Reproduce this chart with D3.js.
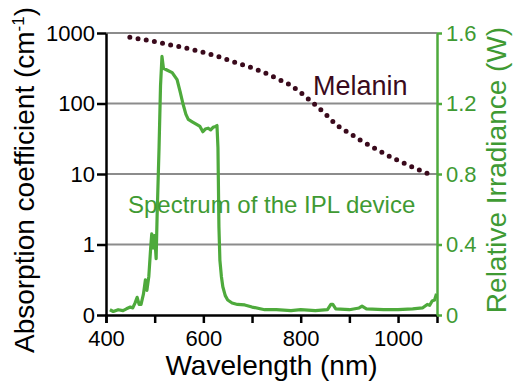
<!DOCTYPE html>
<html>
<head>
<meta charset="utf-8">
<script src="https://cdn.jsdelivr.net/npm/d3@7"></script>
<style>
  body { margin: 0; background: #fff; }
  svg text { font-family: "Liberation Sans", Arial, sans-serif; }
</style>
</head>
<body>
<svg id="chart" width="514" height="387"></svg>
<script>
"use strict";

// melanin absorption coefficient (cm^-1)
var melaninWl  = [449, 480, 517, 550, 587, 625, 661, 700, 722, 753, 780, 798, 823, 850, 874, 900, 922, 955, 989, 1030, 1074];
var melaninVal = [870, 800, 714, 640, 561, 475, 392, 320, 280, 223, 180, 146, 105, 72, 49.5, 38, 30.3, 22.5, 16.9, 12.5, 9.3];

// relative irradiance (W) of the IPL device
var specWl  = [408, 415, 425, 435, 442, 450, 455, 460, 464, 468, 472, 477, 481, 484, 488, 492, 494, 497, 500, 503, 505,
               509, 512, 515, 518, 525, 536, 546, 552, 558, 564, 569, 578, 587, 593, 599, 604, 610, 615, 620, 625, 628,
               630, 632, 634, 637, 640, 645, 650, 659, 670, 685, 700, 726, 750, 780, 800, 830, 855, 862, 866, 872, 900,
               920, 926, 935, 970, 1000, 1030, 1050, 1060, 1065, 1070, 1075, 1079];
var specVal = [0.03, 0.02, 0.03, 0.025, 0.035, 0.045, 0.04, 0.07, 0.10, 0.06, 0.06, 0.12, 0.2, 0.14, 0.22, 0.39, 0.46, 0.38, 0.45, 0.32, 0.56,
               0.95, 1.3, 1.467, 1.40, 1.39, 1.375, 1.335, 1.27, 1.20, 1.14, 1.11, 1.095, 1.08, 1.07, 1.04, 1.055, 1.06, 1.05, 1.065, 1.07, 1.075,
               0.95, 0.5, 0.31, 0.22, 0.16, 0.11, 0.085, 0.068, 0.06, 0.057, 0.045, 0.03, 0.03, 0.025, 0.03, 0.025, 0.03, 0.06, 0.06, 0.035, 0.03,
               0.04, 0.05, 0.035, 0.03, 0.03, 0.035, 0.04, 0.06, 0.055, 0.08, 0.085, 0.12];

var xTicks = [400, 500, 600, 700, 800, 900, 1000];
var xLabels = [400, 600, 800, 1000];
var leftTicks = [0.1, 1, 10, 100, 1000];
var rightTicks = [0, 0.4, 0.8, 1.2, 1.6];

var green = "#4eaa3c", greenText = "#3f9a33", maroon = "#3a0a1c";

var svg = d3.select("#chart");
var plotLeft = 106, plotRight = 437, plotTop = 33, plotBottom = 315;

var x = d3.scaleLinear().domain([400, 1080]).range([plotLeft, plotRight]);
var yLog = d3.scaleLog().domain([0.1, 1000]).range([plotBottom, plotTop]);
var yLin = d3.scaleLinear().domain([0, 1.6]).range([plotBottom, plotTop]);

// gridlines
svg.append("g").selectAll("line")
    .data(leftTicks.slice(1))
    .enter().append("line")
      .attr("x1", plotLeft).attr("x2", plotRight)
      .attr("y1", function(d) { return yLog(d); })
      .attr("y2", function(d) { return yLog(d); })
      .attr("stroke", "#8c8c8c")
      .attr("stroke-width", 2);

// spectrum
var spec = specWl.map(function(w, i) { return [w, specVal[i]]; });
svg.append("path")
    .datum(spec)
    .attr("fill", "none")
    .attr("stroke", green)
    .attr("stroke-width", 3.2)
    .attr("stroke-linejoin", "round")
    .attr("d", d3.line()
        .x(function(d) { return x(d[0]); })
        .y(function(d) { return yLin(d[1]); }));

// melanin dotted curve
var mel = melaninWl.map(function(w, i) { return [w, melaninVal[i]]; });
svg.append("path")
    .datum(mel)
    .attr("fill", "none")
    .attr("stroke", maroon)
    .attr("stroke-width", 5)
    .attr("stroke-linecap", "round")
    .attr("stroke-dasharray", "0 8.3")
    .attr("d", d3.line()
        .curve(d3.curveMonotoneX)
        .x(function(d) { return x(d[0]); })
        .y(function(d) { return yLog(d[1]); }));

// axes
var gx = svg.append("g")
    .attr("transform", "translate(0," + plotBottom + ")")
    .call(d3.axisBottom(x).tickValues(xTicks).tickSize(8).tickSizeOuter(8).tickPadding(4)
        .tickFormat(function(d) { return xLabels.indexOf(d) >= 0 ? d : ""; }));

var gl = svg.append("g")
    .attr("transform", "translate(" + plotLeft + ",0)")
    .call(d3.axisLeft(yLog).tickValues(leftTicks).tickSize(9).tickSizeOuter(0).tickPadding(2)
        .tickFormat(function(d) { return d < 1 ? "0" : d3.format("d")(d); }));

var gr = svg.append("g")
    .attr("transform", "translate(" + plotRight + ",0)")
    .call(d3.axisRight(yLin).tickValues(rightTicks).tickSize(5).tickSizeOuter(0).tickPadding(4)
        .tickFormat(function(d) { return d === 0 ? "0" : d3.format(".1f")(d); }));

[gx, gl].forEach(function(g) {
  g.selectAll("path, line").attr("stroke", "#000").attr("stroke-width", 2.5);
  g.selectAll("text").attr("fill", "#000").style("font-size", "22px");
});
gr.selectAll("path, line").attr("stroke", green).attr("stroke-width", 2.5);
gr.selectAll("text").attr("fill", greenText).style("font-size", "22px");
gx.selectAll("text").attr("dy", "0.85em");

// titles
svg.append("text")
    .attr("x", (plotLeft + plotRight) / 2).attr("y", 375)
    .attr("text-anchor", "middle")
    .style("font-size", "28px")
    .text("Wavelength (nm)");

var lt = svg.append("text")
    .attr("transform", "translate(34,180) rotate(-90)")
    .attr("text-anchor", "middle")
    .style("font-size", "28px");
lt.append("tspan").text("Absorption coefficient (cm");
lt.append("tspan").attr("dy", -10).style("font-size", "17px").text("-1");
lt.append("tspan").attr("dy", 10).text(")");

svg.append("text")
    .attr("transform", "translate(506,170) rotate(-90)")
    .attr("text-anchor", "middle")
    .attr("fill", greenText)
    .style("font-size", "28px")
    .text("Relative Irradiance (W)");

// labels
svg.append("text")
    .attr("x", 313).attr("y", 95)
    .attr("fill", maroon)
    .style("font-size", "27px")
    .text("Melanin");

svg.append("text")
    .attr("x", 128).attr("y", 213)
    .attr("fill", greenText)
    .style("font-size", "24px")
    .text("Spectrum of the IPL device");
</script>
</body>
</html>
